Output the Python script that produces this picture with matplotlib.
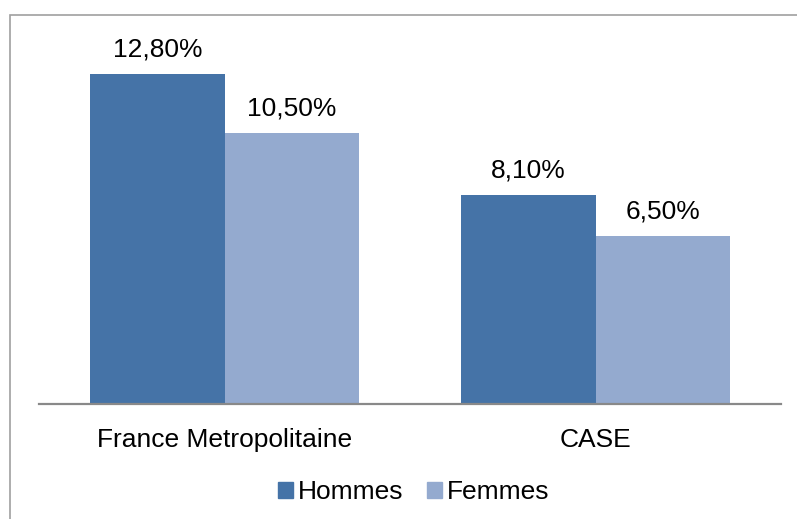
import matplotlib.pyplot as plt
import matplotlib.patches as mpatches
import numpy as np

plt.rcParams['font.family'] = ['Liberation Sans', 'DejaVu Sans']

# Daten
categories = ["France Metropolitaine", "CASE"]
hommes = [12.8, 8.1]
femmes = [10.5, 6.5]
labels_h = ["12,80%", "8,10%"]
labels_f = ["10,50%", "6,50%"]

c_h = "#4573A7"
c_f = "#94AACF"

W, H = 797, 519
fig = plt.figure(figsize=(W / 100, H / 100), dpi=100)
ax = fig.add_axes([39 / W, (H - 404) / H, (781 - 39) / W, (404 - 43) / H])

x = np.arange(len(categories))
w = 0.3625
b1 = ax.bar(x - w / 2, hommes, w, color=c_h, label="Hommes")
b2 = ax.bar(x + w / 2, femmes, w, color=c_f, label="Femmes")

for rect, lab in zip(b1, labels_h):
    ax.annotate(lab, (rect.get_x() + rect.get_width() / 2, rect.get_height()),
                xytext=(0, 9), textcoords="offset points", ha="center", va="bottom", fontsize=19)
for rect, lab in zip(b2, labels_f):
    ax.annotate(lab, (rect.get_x() + rect.get_width() / 2, rect.get_height()),
                xytext=(0, 9), textcoords="offset points", ha="center", va="bottom", fontsize=19)

ax.set_xlim(-0.5, 1.5)
ax.set_ylim(0, 14)
ax.set_xticks(x)
ax.set_xticklabels(categories, fontsize=19)
ax.tick_params(axis="x", length=0, pad=17)
ax.set_yticks([])
for s in ["top", "right", "left"]:
    ax.spines[s].set_visible(False)
ax.spines["bottom"].set_color("#898989")
ax.spines["bottom"].set_linewidth(1.6)

# Rahmen (rechts/unten abgeschnitten)
fig.patches.append(mpatches.Rectangle((9.5 / W, -0.1), 1.0, (H - 14.5) / H + 0.1,
                                      transform=fig.transFigure, fill=False,
                                      edgecolor="#A0A0A0", linewidth=1.2))

fig.legend(handles=[mpatches.Patch(color=c_h, label="Hommes"),
                    mpatches.Patch(color=c_f, label="Femmes")],
           loc="center", bbox_to_anchor=(414 / W, 1 - 492 / H), ncol=2, frameon=False,
           fontsize=19, handlelength=0.55, handleheight=0.55, handletextpad=0.2,
           columnspacing=0.9)

fig.savefig("out.png", dpi=100)
